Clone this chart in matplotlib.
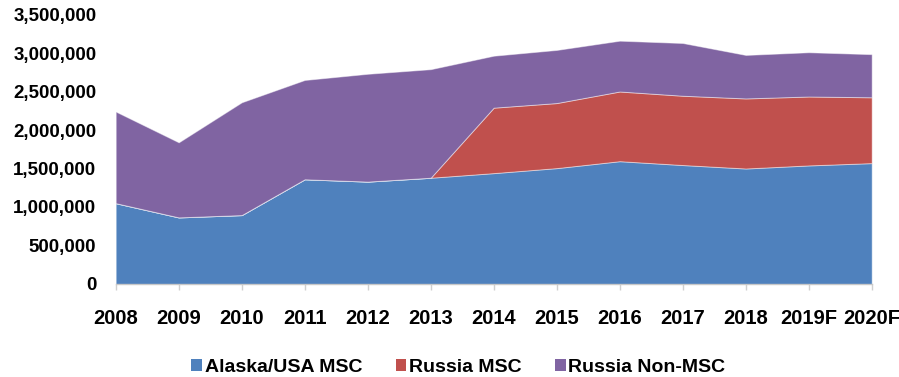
import numpy as np
import matplotlib
matplotlib.use("Agg")
import matplotlib.pyplot as plt
from matplotlib.patches import Patch
from matplotlib.ticker import FuncFormatter

plt.rcParams['font.family'] = ['Liberation Sans', 'DejaVu Sans']
plt.rcParams['font.weight'] = 'bold'

# Salmon supply by source (stacked)
years = ["2008", "2009", "2010", "2011", "2012", "2013", "2014",
         "2015", "2016", "2017", "2018", "2019F", "2020F"]
alaska_msc = [1050000, 865000, 895000, 1360000, 1330000, 1380000, 1440000,
              1505000, 1595000, 1545000, 1500000, 1540000, 1570000]
russia_msc = [0, 0, 0, 0, 0, 0, 850000,
              845000, 905000, 900000, 910000, 895000, 855000]
russia_non_msc = [1190000, 975000, 1465000, 1290000, 1400000, 1410000, 675000,
                  690000, 660000, 685000, 565000, 575000, 560000]

names = ["Alaska/USA MSC", "Russia MSC", "Russia Non-MSC"]
colors = ["#4F81BD", "#C0504D", "#8064A2"]

fig = plt.figure(figsize=(8.99, 3.77), dpi=100)
ax = fig.add_axes([0.1287, 0.2467, 0.8409, 0.7148])

x = np.arange(len(years))
ax.stackplot(x, alaska_msc, russia_msc, russia_non_msc, colors=colors,
             edgecolor=(1, 1, 1, 0.45), linewidth=0.7)

ax.set_xlim(0, len(years) - 1)
ax.set_ylim(0, 3500000)
ax.set_yticks(np.arange(0, 3500001, 500000))
ax.yaxis.set_major_formatter(FuncFormatter(lambda v, p: f"{int(v):,}"))
ax.set_xticks(x)
ax.set_xticklabels(years)

for s in ["top", "right", "left"]:
    ax.spines[s].set_visible(False)
ax.spines["bottom"].set_color("#C8C8C8")
ax.spines["bottom"].set_linewidth(1.0)
ax.spines["bottom"].set_zorder(5)

ax.tick_params(axis="y", length=0, pad=14, labelsize=13.5)
ax.tick_params(axis="x", length=4, width=1, color="#D0D0D0", direction="out",
               pad=14, labelsize=14.5)

handles = [Patch(facecolor=c, edgecolor="none") for c in colors]
fig.legend(handles, names, loc="center", bbox_to_anchor=(0.510, 0.026),
           ncol=3, frameon=False, fontsize=14, handlelength=0.55,
           handleheight=0.55, handletextpad=0.15, columnspacing=1.7,
           borderaxespad=0.0, borderpad=0.0)

fig.savefig("out.png", dpi=100)
